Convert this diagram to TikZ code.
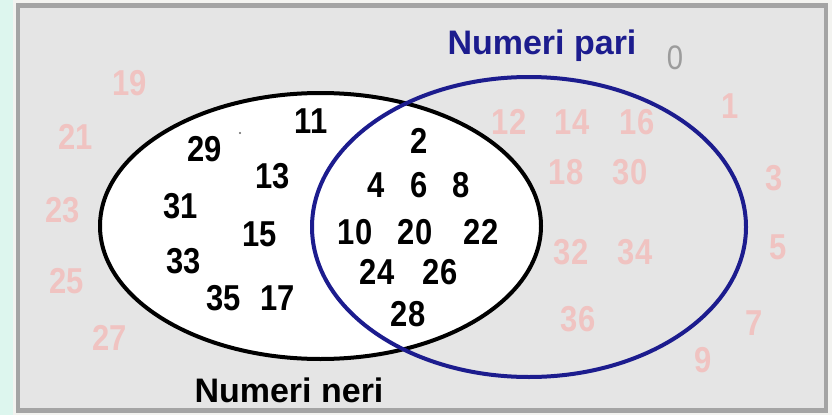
\documentclass[tikz,border=0pt]{standalone}
\usepackage{fontspec}
\setmainfont{Liberation Sans}
\newfontfamily\numfont[FakeStretch=0.86]{Liberation Sans}
\definecolor{mint}{HTML}{DDF6EE}
\definecolor{outer}{HTML}{F3F3F0}
\definecolor{panel}{HTML}{E5E5E5}
\definecolor{frame}{HTML}{A4A4A4}
\definecolor{navy}{HTML}{1C1C8E}
\definecolor{faint}{HTML}{F0C3C1}
\definecolor{zero}{HTML}{9C9C9C}
\begin{document}
\begin{tikzpicture}[x=1pt,y=-1pt,
  num/.style={font=\numfont\fontsize{36}{40}\selectfont\bfseries, text=black, inner sep=0pt},
  pale/.style={font=\numfont\fontsize{36}{40}\selectfont\bfseries, text=faint, inner sep=0pt},
  lbl/.style={font=\fontsize{34}{40}\selectfont\bfseries, inner sep=0pt}]
\useasboundingbox (0,0) rectangle (832,415);
\fill[outer] (0,0) rectangle (832,415);
\fill[mint] (0,0) rectangle (13,415);
\draw[frame, line width=4.5pt, fill=panel] (18,5.5) rectangle (826,410.5);
% sets
\draw[black, line width=4pt, fill=white] (320.5,226) ellipse [x radius=220.5, y radius=133];
\draw[navy, line width=4pt] (529,227) ellipse [x radius=217, y radius=150];
% labels
\node[lbl, text=black] (neri) at (289,390) {Numeri neri};
\node[lbl, text=navy] (pari) at (542,46) {Numeri pari};
\node[pale, text=zero, font=\numfont\fontsize{34}{40}\selectfont] (n0) at (675,58) {0};
% odd numbers only
\node[num] (n11) at (311,121) {11};
\node[num] (n29) at (205,149) {29};
\fill[black!60] (240,133) circle (1.2);
\node[num] (n13) at (273,176) {13};
\node[num] (n31) at (181,206) {31};
\node[num] (n15) at (260,234) {15};
\node[num] (n33) at (184,261) {33};
\node[num] (n35) at (224,298) {35};
\node[num] (n17) at (278,298) {17};
% intersection
\node[num] (n2) at (419,141) {2};
\node[num] (n4) at (376,185) {4};
\node[num] (n6) at (419,185) {6};
\node[num] (n8) at (461,185) {8};
\node[num] (n10) at (355,232) {10};
\node[num] (n20) at (415,232) {20};
\node[num] (n22) at (481,232) {22};
\node[num] (n24) at (377,272) {24};
\node[num] (n26) at (440,272) {26};
\node[num] (n28) at (408,314) {28};
% faint numbers
\node[pale] (n19) at (130,83) {19};
\node[pale] (n21) at (76,137) {21};
\node[pale] (n23) at (63,210) {23};
\node[pale] (n25) at (67,281) {25};
\node[pale] (n27) at (110,338) {27};
\node[pale] (n12) at (509,122) {12};
\node[pale] (n14) at (572,122) {14};
\node[pale] (n16) at (637,122) {16};
\node[pale] (n1) at (730,106) {1};
\node[pale] (n18) at (566,172) {18};
\node[pale] (n30) at (630,172) {30};
\node[pale] (n3) at (774,178) {3};
\node[pale] (n32) at (571,252) {32};
\node[pale] (n34) at (635,252) {34};
\node[pale] (n5) at (778,247) {5};
\node[pale] (n36) at (578,319) {36};
\node[pale] (n7) at (754,323) {7};
\node[pale] (n9) at (703,360) {9};
\end{tikzpicture}
\end{document}
